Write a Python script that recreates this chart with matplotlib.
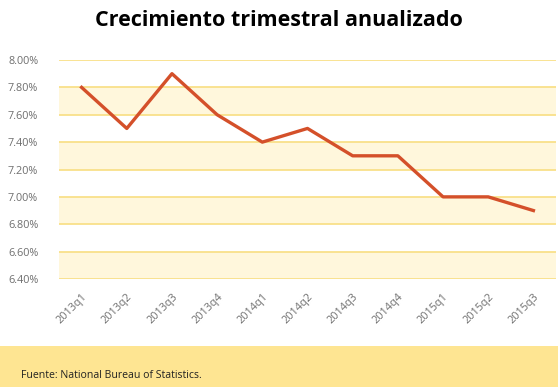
import matplotlib.pyplot as plt
from matplotlib.patches import Rectangle

quarters = ['2013q1', '2013q2', '2013q3', '2013q4', '2014q1', '2014q2',
            '2014q3', '2014q4', '2015q1', '2015q2', '2015q3']
growth = [7.8, 7.5, 7.9, 7.6, 7.4, 7.5, 7.3, 7.3, 7.0, 7.0, 6.9]
y_ticks = [6.4, 6.6, 6.8, 7.0, 7.2, 7.4, 7.6, 7.8, 8.0]
bands = [(6.4, 6.6), (6.8, 7.0), (7.2, 7.4), (7.6, 7.8)]

plt.rcParams['font.family'] = ['Open Sans', 'DejaVu Sans']

fig = plt.figure(figsize=(5.58, 3.87), dpi=100)
ax = fig.add_axes([59 / 558, 1 - 279 / 387, 497 / 558, 219 / 387])

for lo, hi in bands:
    ax.axhspan(lo, hi, color='#fff7dc', lw=0, zorder=0)
for y in y_ticks:
    ax.axhline(y, color='#f9e08a', lw=1.3, zorder=1)

ax.plot(range(len(quarters)), growth, color='#d4502a', lw=2.4, zorder=3)

ax.set_xlim(-0.5, len(quarters) - 0.5)
ax.set_ylim(6.4, 8.0)
ax.set_yticks(y_ticks)
ax.set_yticklabels([f'{v:.2f}%' for v in y_ticks])
ax.set_xticks(range(len(quarters)))
ax.set_xticklabels(quarters, rotation=45, ha='right', rotation_mode='anchor')
ax.tick_params(length=0, labelsize=7.8, labelcolor='#6e6e6e')
ax.tick_params(axis='y', pad=15)
ax.tick_params(axis='x', pad=9)
for s in ax.spines.values():
    s.set_visible(False)

fig.text(0.5, 1 - 21 / 387, 'Crecimiento trimestral anualizado',
         ha='center', va='center', fontsize=15.5, fontweight='bold', color='black')

fig.patches.append(Rectangle((0, 0), 1, 41 / 387, transform=fig.transFigure,
                             facecolor='#fee592', edgecolor='none', zorder=0))
fig.text(21 / 558, 1 - 376 / 387, 'Fuente: National Bureau of Statistics.',
         ha='left', va='center', fontsize=7.6, color='#222222')

fig.savefig('out.png', dpi=100)
